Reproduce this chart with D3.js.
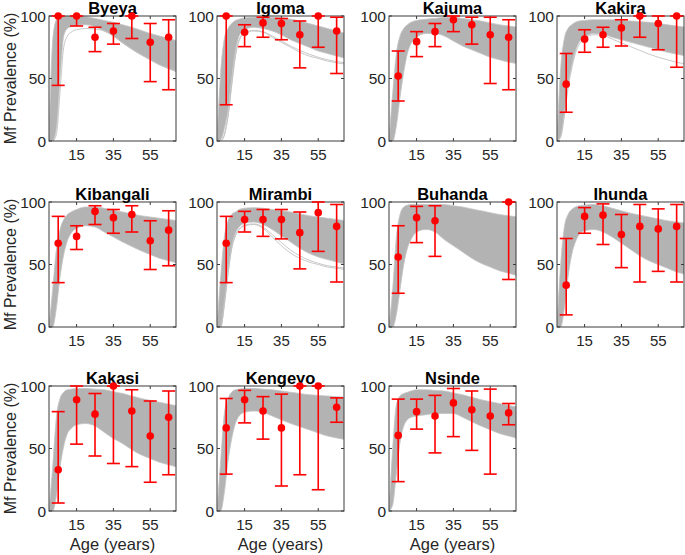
<!DOCTYPE html>
<html><head><meta charset="utf-8">
<script src="https://cdn.jsdelivr.net/npm/d3@7"></script>
<style>body{margin:0;background:#fff} text{font-family: Arial, "Liberation Sans", Helvetica, sans-serif; fill:#262626;}</style>
</head><body><svg id="c" width="685" height="555"></svg>
<script>
const sites = ["Byeya","Igoma","Kajuma","Kakira","Kibangali","Mirambi","Buhanda","Ihunda","Kakasi","Kengeyo","Nsinde"];
const ages = [5,15,25,35,45,55,65];
const xTicks = [15,35,55];
const yTicks = [0,50,100];
// observed prevalence (null = no data)
const prev = [
  [100,100,83,88,100,79,83],
  [100,87,94.5,94,85,100,88],
  [52,79.5,87.5,97,93,85,83],
  [45.5,81.5,85,90.5,100,94,100],
  [67,72.5,92.5,87.5,90,69,77.5],
  [67,86,86,86,75.5,91.5,80.5],
  [56,87.5,85,null,null,null,100],
  [33.5,88.5,89.5,74,80.5,78.5,80.5],
  [33,89,77.5,100,80,60,75],
  [66.5,89,80,66.5,100,100,83],
  [60.5,79.5,76,86.5,81,76,78.5]
];
const lowCI = [
  [44.5,92,71.5,77.5,82,47.5,41],
  [29,75.5,83,81,58.5,75,54],
  [32,67.5,75.5,87.5,77.5,46,41],
  [23,71,75,76,83,73,59],
  [35.5,62,82,75,76,46,49],
  [35.5,76,72.5,70.5,46.5,60.5,36],
  [27,67.5,56.5,null,null,null,38],
  [9.7,75,66,47.5,36,44.5,36],
  [6.4,53.5,44,38,35.5,23,29],
  [29.5,70.5,57.5,20,29,17,71],
  [23.5,65.5,46.5,59.5,48.5,29.5,69]
];
const highCI = [
  [100,100,91,94,100,94,97],
  [100,93,99,98,96,100,99],
  [72,87.5,94,100,99,99,97],
  [70,89,91,97,100,100,100],
  [88.5,81,97,94,97,85,93],
  [88.5,92.5,94,94,92,100,98],
  [81,96.5,97,null,null,null,100],
  [70.8,95.5,98.5,90,98,94.5,98],
  [79.5,100,94,100,97,88,96],
  [90,96.5,91.5,93.5,100,100,90.5],
  [89.5,89.5,92.5,98,96,97.5,86]
];
// model simulation envelope (upper / lower edge of the grey bundle)
const bandAges = [0,2,4,6,8,10,12,15,20,25,30,35,40,45,50,55,60,65,70];
const bandUpper = [
  [0,80,97,99.5,100,100,100,100,99.5,98,96.5,95,93,91,88.5,86,84,82,80],
  [0,55,82,90,94,96.5,97.5,98.5,99,99,99,98.5,97.5,96,94,92,90,88,86],
  [0,38,70,84,90,93,95,96.5,97.5,98,99,99,98,97,96,94.5,93,92,91],
  [0,58,82,90,93,95,96,96.5,97,97,97,96.5,96,95.5,95,94,93,92,91],
  [0,30,62,78,86,90,92,94,96,96,95,93.5,92,90.5,89,88,87,86,85],
  [0,40,72,85,90,92,94,95,95.5,95,94,93,92,90.5,89,88,87,86,85],
  [0,30,72,90,96,97.5,98,98,98,98,98,97,96,94.5,93,91.5,90,89,88],
  [0,50,80,90,94,96,97,97.5,98,97,95,93,91,89.5,88,86.5,85,84,83],
  [0,35,75,90,95,97,97.5,98,98,97.5,97,95.5,94,92,90,88.5,87,85.5,84],
  [0,40,78,90,95,97,97.5,98,98,97.5,97,96,95,94,93,92.5,92,91.5,91],
  [0,50,85,92,94,95,96,97,97,96.5,96,94.5,93,91,89,87.5,86,84.5,83]
];
const bandLower = [
  [0,0,10,50,84,90,91.5,92.5,93,91.5,88,84,78.5,73.5,69,65,61,58,55],
  [0,1,10,25,50,72,84,89,91,90,88,85,81,78,75,72,70,68,66],
  [0,0,12,35,55,70,78,83,86,86,84,80,76,73,70,67,65,63,62],
  [0,4,22,45,60,72,79,83,86,85.5,83,81,79,77,75,73,71,69.5,68],
  [0,0,15,40,58,69,75,79,81,80,76,72,68,64.5,61,58,55,53,51],
  [0,0,20,45,65,75,80,83,84,82,78,73,68,63,59,56,54,52,50],
  [0,0,10,30,50,63,70,76,78,76,70,65,60,55,51,48,45,43,41],
  [0,0,15,40,58,68,74,77,78,76,72,67,62,57,53,50,47,44,42],
  [0,0,12,35,52,62,66,69,70,68,63,58,54,49,45,42,39,37,35],
  [0,0,15,40,58,70,76,79,80,79,76,73,70,67.5,65,62.5,60,58.5,57],
  [0,5,30,55,68,73,75,76,77,78,78,78,75,71.5,68,65,62,60,58]
];
// a few stray simulations that sit apart from the bundle
const strayLines = [
  {site:0, v:[0,0,5,40,75,84,87,89,90,89.5,88,84,78.5,73.5,69,65,61,58,55]},
  {site:1, v:[0,0,5,20,45,68,80,86,88,87,83,79,75,71,68,66,64,62.5,61.5]},
  {site:1, v:[0,0,5,20,45,68,81,87,88.5,87.5,84,80,76,72.5,69.5,67,65,63.5,62.5]},
  {site:3, v:[0,3,20,42,58,70,77,82,85,84.5,81.5,78.5,75.5,72.5,69.5,67,65,63,61.5]},
  {site:5, v:[0,0,18,43,63,73,78,81,82,79,72,65,59,55,52,50,48,47,46]},
  {site:5, v:[0,0,18,43,63,73,78,81.5,82.5,80,74,67.5,61.5,57,53.5,51,49,48,47]}
];

const svg = d3.select("#c");
const colLeft = [49,217,389,557], rowTop = [16,202,386];
const W = 127, H = 125;
const bandColor = "#b3b3b3";

sites.forEach((name, i) => {
  const r = Math.floor(i/4), c = i%4;
  const x0 = colLeft[c], y0 = rowTop[r];
  const g = svg.append("g").attr("transform", `translate(${x0},${y0})`);
  const x = d3.scaleLinear().domain([0,69]).range([0,W]);
  const y = d3.scaleLinear().domain([0,100]).range([H,0]);
  const clipId = "clip"+i;
  g.append("clipPath").attr("id", clipId).append("rect").attr("width", W).attr("height", H);
  const pg = g.append("g").attr("clip-path", `url(#${clipId})`);
  const bd = bandAges.map((a,k)=>({a, u:bandUpper[i][k], l:bandLower[i][k]}));
  pg.append("path").datum(bd)
    .attr("d", d3.area().x(d=>x(d.a)).y0(d=>y(d.l)).y1(d=>y(d.u)).curve(d3.curveMonotoneX))
    .attr("fill", bandColor).attr("stroke", "#c4c4c4").attr("stroke-width", 0.8);
  strayLines.filter(s=>s.site===i).forEach(s=>{
    pg.append("path").datum(bandAges.map((a,k)=>({a, v:s.v[k]})))
      .attr("d", d3.line().x(d=>x(d.a)).y(d=>y(d.v)).curve(d3.curveMonotoneX))
      .attr("fill","none").attr("stroke","#c2c2c2").attr("stroke-width",0.9);
  });
  // box
  g.append("rect").attr("width", W).attr("height", H).attr("fill","none")
    .attr("stroke","#3a3a3a").attr("stroke-width",1);
  // ticks
  const tl = 3;
  xTicks.forEach(t=>{
    g.append("line").attr("x1",x(t)).attr("x2",x(t)).attr("y1",H).attr("y2",H-tl).attr("stroke","#3a3a3a");
    g.append("line").attr("x1",x(t)).attr("x2",x(t)).attr("y1",0).attr("y2",tl).attr("stroke","#3a3a3a");
    g.append("text").attr("x",x(t)).attr("y",H+19).attr("text-anchor","middle")
      .attr("font-size",15).text(t);
  });
  yTicks.forEach(t=>{
    g.append("line").attr("x1",0).attr("x2",tl).attr("y1",y(t)).attr("y2",y(t)).attr("stroke","#3a3a3a");
    g.append("line").attr("x1",W).attr("x2",W-tl).attr("y1",y(t)).attr("y2",y(t)).attr("stroke","#3a3a3a");
    g.append("text").attr("x",-3).attr("y",y(t)).attr("dy","0.36em").attr("text-anchor","end")
      .attr("font-size",15.5).text(t);
  });
  // title
  g.append("text").attr("x",W/2).attr("y",-2).attr("text-anchor","middle")
    .attr("font-size",16.5).attr("font-weight","bold").style("fill","#000").text(name);
  // error bars
  const red = "#ff0000", cap = 6.5;
  ages.forEach((a,k)=>{
    const m = prev[i][k]; if (m===null) return;
    const lo = lowCI[i][k], hi = highCI[i][k];
    const xx = x(a);
    g.append("line").attr("x1",xx).attr("x2",xx).attr("y1",y(lo)).attr("y2",y(hi)).attr("stroke",red).attr("stroke-width",1.6);
    [lo,hi].forEach(v=>g.append("line").attr("x1",xx-cap).attr("x2",xx+cap).attr("y1",y(v)).attr("y2",y(v)).attr("stroke",red).attr("stroke-width",1.6));
    g.append("circle").attr("cx",xx).attr("cy",y(m)).attr("r",3.8).attr("fill",red);
  });
  if (c===0) {
    svg.append("text").attr("transform",`translate(16,${y0+H/2}) rotate(-90)`)
      .attr("text-anchor","middle").attr("font-size",16).text("Mf Prevalence (%)");
  }
  if (r===2) {
    g.append("text").attr("x",W/2).attr("y",H+39).attr("text-anchor","middle")
      .attr("font-size",16.5).text("Age (years)");
  }
});
</script></body></html>
